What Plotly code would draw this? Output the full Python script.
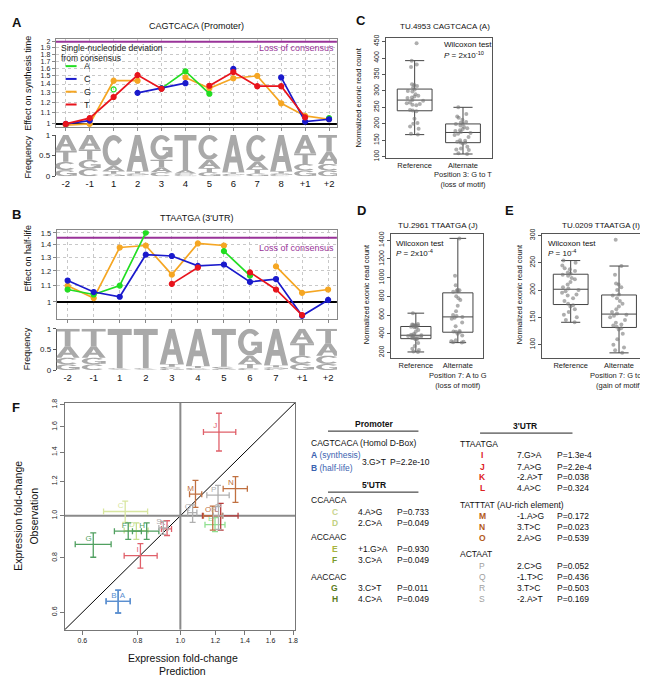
import numpy as np
import plotly.graph_objects as go

W, H = 648, 678
def fx(x): return x / W
def fy(y): return 1 - y / H

FONT = "Arial, Liberation Sans, sans-serif"
GREEN, BLUE, ORANGE, RED = "#22dd22", "#1a1acc", "#f5a623", "#e8141c"
PURPLE = "#993399"
GRID = "#c8c8c8"
FRAME = "#888888"

# ---------------- Panel A data (CAGTCACA, promoter) ----------------
posA = ["-2", "-1", "1", "2", "3", "4", "5", "6", "7", "8", "+1", "+2"]
A_green = [None, None, 1.338, None, 1.35, 1.56, 1.29, None, None, None, None, 1.05]
A_blue = [1.0, 1.028, None, 1.30, 1.35, 1.41, None, 1.59, None, 1.48, 1.02, 1.04]
A_orange = [0.99, 1.0, 1.44, 1.44, None, 1.48, 1.35, 1.47, 1.50, 1.19, 1.07, 1.04]
A_red = [1.0, 1.05, 1.255, 1.51, 1.345, None, 1.38, 1.55, 1.375, 1.375, 1.057, None]
A_ticks = [1, 1.1, 1.2, 1.3, 1.4, 1.5, 1.6, 1.7, 1.8, 1.9, 2]
A_loss = 2.0
logoA = {
    "A": [0.38, 0.35, 0.12, 0.88, 0.12, 0.08, 0.20, 0.90, 0.18, 0.88, 0.45, 0.30],
    "C": [0.20, 0.18, 0.75, 0.03, 0.10, 0.04, 0.60, 0.03, 0.65, 0.03, 0.16, 0.16],
    "G": [0.15, 0.22, 0.06, 0.04, 0.60, 0.03, 0.10, 0.03, 0.07, 0.04, 0.14, 0.14],
    "T": [0.27, 0.25, 0.07, 0.05, 0.18, 0.85, 0.10, 0.04, 0.10, 0.05, 0.25, 0.40],
}

# ---------------- Panel B data (TTAATGA, 3'UTR) ----------------
posB = ["-2", "-1", "1", "2", "3", "4", "5", "6", "7", "+1", "+2"]
B_green = [1.076, 1.045, 1.101, 1.502, None, None, 1.348, 1.167, None, None, None]
B_blue = [1.134, 1.06, 1.031, 1.32, 1.31, 1.236, 1.246, 1.125, 1.144, 0.922, 1.012]
B_orange = [1.10, 1.023, 1.377, 1.393, 1.174, 1.41, 1.393, None, 1.232, 1.055, 1.076]
B_red = [None, None, None, None, 1.112, 1.224, None, 1.19, 1.076, 0.926, None]
B_ticks = [1, 1.1, 1.2, 1.3, 1.4, 1.5]
B_loss = 1.457
logoB = {
    "A": [0.28, 0.28, 0.02, 0.02, 0.85, 0.90, 0.03, 0.20, 0.88, 0.35, 0.30],
    "C": [0.16, 0.14, 0.02, 0.02, 0.05, 0.03, 0.03, 0.05, 0.03, 0.20, 0.20],
    "G": [0.14, 0.16, 0.01, 0.01, 0.03, 0.02, 0.02, 0.65, 0.04, 0.15, 0.15],
    "T": [0.42, 0.42, 0.95, 0.95, 0.07, 0.05, 0.92, 0.10, 0.05, 0.30, 0.35],
}

# ---------------- Panels C, D, E (box plots) ----------------
C_ref = [445, 392, 380, 373, 320, 318, 315, 310, 304, 300, 298, 290, 285, 283, 280, 278, 262,
         272, 270, 265, 260, 258, 256, 242, 240, 238, 215, 202, 200, 192, 185, 170, 167]
C_alt = [250, 230, 222, 218, 212, 205, 203, 200, 199, 195, 190, 186, 184, 180, 178, 175, 172,
         170, 166, 160, 150, 148, 145, 143, 142, 140, 130, 125, 122, 120, 110, 108]
D_ref = [620, 505, 500, 495, 490, 488, 485, 480, 475, 470, 465, 440, 420, 400, 390, 385, 383,
         380, 375, 370, 365, 360, 355, 350, 345, 340, 300, 270, 240, 225, 210, 205]
D_alt = [1420, 1020, 920, 870, 865, 860, 855, 850, 800, 780, 760, 700, 640, 600, 590, 580,
         570, 560, 520, 480, 430, 425, 420, 415, 400, 380, 330, 320, 315, 310, 305]
E_ref = [254, 250, 245, 240, 238, 235, 232, 230, 228, 226, 222, 220, 215, 210, 205, 203, 200,
         198, 195, 192, 190, 185, 180, 175, 172, 170, 165, 160, 155, 150, 145, 141]
E_alt = [292, 244, 228, 212, 210, 205, 200, 192, 190, 185, 180, 175, 170, 165, 160, 157, 155,
         153, 150, 145, 140, 137, 135, 133, 130, 128, 120, 110, 100, 95, 90, 85]

# ---------------- Panel F data ----------------
F_labels = ["A", "B", "C", "D", "E", "F", "G", "H", "I", "J", "K", "L", "M", "N", "O", "P", "Q", "R", "S"]
F_pred = [0.723, 0.723, 0.75, 0.795, 1.198, 0.762, 0.635, 0.839, 0.812, 1.223, 0.933, 1.234, 1.082, 1.333, 1.184, 1.217, 1.066, 1.22, 0.915]
F_pred_lo = [0.679, 0.679, 0.670, 0.746, 1.137, 0.709, 0.578, 0.779, 0.746, 1.128, 0.906, 1.122, 1.049, 1.25, 1.128, 1.148, 1.039, 1.188, 0.894]
F_pred_hi = [0.77, 0.77, 0.843, 0.845, 1.262, 0.816, 0.697, 0.894, 0.886, 1.335, 0.955, 1.351, 1.118, 1.418, 1.245, 1.29, 1.09, 1.25, 0.937]
F_obs = [0.636, 0.636, 1.023, 0.925, 0.954, 0.922, 0.86, 0.922, 0.81, 1.557, 0.933, 1.0, 1.121, 1.154, 1.0, 1.115, 1.017, 1.0, 0.938]
F_obs_lo = [0.598, 0.598, 0.966, 0.883, 0.92, 0.883, 0.803, 0.883, 0.758, 1.409, 0.901, 0.927, 1.046, 1.073, 0.927, 1.05, 0.966, 0.93, 0.906]
F_obs_hi = [0.675, 0.675, 1.081, 0.963, 0.99, 0.963, 0.914, 0.963, 0.863, 1.72, 0.974, 1.068, 1.206, 1.23, 1.053, 1.174, 1.059, 1.059, 0.971]
F_colors = ["#5b8fd0", "#5b8fd0", "#d8e6a0", "#c8e090", "#90e090", "#50a060", "#50a060", "#50a060",
            "#e0606a", "#e0606a", "#e0606a", "#b83a3a", "#c07040", "#c07040", "#c07040",
            "#b0b0b0", "#b0b0b0", "#b0b0b0", "#b0b0b0"]
F_textpos = ["top right", "top left"] + ["top left"] * 17
F_ticks = [0.6, 0.8, 1.0, 1.2, 1.4, 1.6, 1.8]
F_ticktext = ["0.6", "0.8", "1.0", "1.2", "1.4", "1.6", "1.8"]
F_lim = [0.547, 1.82]

fig = go.Figure()
shapes = []
ann = []

def txt(x, y, s, size=9, xanchor="center", yanchor="middle", color="#111", angle=0, bold=False):
    if bold:
        s = "<b>" + s + "</b>"
    ann.append(dict(x=fx(x), y=fy(y), xref="paper", yref="paper", text=s, showarrow=False,
                    xanchor=xanchor, yanchor=yanchor, textangle=angle, borderpad=0,
                    font=dict(family=FONT, size=size, color=color)))

# ---------------- glyphs for sequence logos ----------------
def arc(cx, cy, rx, ry, a0, a1, n=22):
    t = np.radians(np.linspace(a0, a1, n))
    return [(cx + rx * np.cos(a), cy + ry * np.sin(a)) for a in t]

GLYPHS = {
    "T": [[[(0, 1), (1, 1), (1, 0.84), (0.62, 0.84), (0.62, 0), (0.38, 0), (0.38, 0.84), (0, 0.84)]]],
    "A": [[[(0, 0), (0.38, 1), (0.62, 1), (1, 0), (0.76, 0), (0.67, 0.26), (0.33, 0.26), (0.24, 0)],
           [(0.40, 0.42), (0.60, 0.42), (0.5, 0.74)]]],
    "C": [[arc(0.5, 0.5, 0.5, 0.5, 40, 320) + arc(0.5, 0.5, 0.27, 0.33, 320, 40)]],
    "G": [[arc(0.5, 0.5, 0.5, 0.5, 40, 330) + arc(0.5, 0.5, 0.27, 0.33, 330, 40)],
          [[(0.55, 0.52), (1.0, 0.52), (1.0, 0.1), (0.8, 0.1), (0.8, 0.38), (0.55, 0.38)]]],
}

def add_logo(logo, xref, yref, npos):
    for i in range(npos):
        items = sorted([(logo[k][i], k) for k in "ACGT"])
        y0 = 0.0
        for h, letter in items:
            if h >= 0.015:
                for group in GLYPHS[letter]:
                    path = ""
                    for sub in group:
                        pts = [(i + (u - 0.5) * 0.92, y0 + v * h) for u, v in sub]
                        path += "M " + " L ".join(f"{a:.4f},{b:.4f}" for a, b in pts) + " Z "
                    shapes.append(dict(type="path", path=path, xref=xref, yref=yref,
                                       fillcolor="#a9a9a9", line=dict(width=0), layer="above"))
            y0 += h

def add_lines(xa, ya, n, series, baseline, loss, xr):
    fig.add_trace(go.Scatter(x=xr, y=[baseline, baseline], mode="lines", line=dict(color="black", width=2),
                             xaxis=xa, yaxis=ya, showlegend=False, hoverinfo="skip"))
    fig.add_trace(go.Scatter(x=xr, y=[loss, loss], mode="lines", line=dict(color=PURPLE, width=2),
                             xaxis=xa, yaxis=ya, showlegend=False, hoverinfo="skip"))
    for vals, color, sym in series:
        fig.add_trace(go.Scatter(x=list(range(n)), y=vals, mode="lines+markers",
                                 line=dict(color=color, width=1.7),
                                 marker=dict(color=color, size=5, symbol=sym, line=dict(width=1.2, color=color)),
                                 connectgaps=False, xaxis=xa, yaxis=ya, showlegend=False, hoverinfo="skip"))

xrA = [-0.42, 11.33]
xrB = [-0.42, 10.34]
symA_green = ["circle-open" if i == 2 else "circle" for i in range(len(posA))]
add_lines("x", "y", len(posA), [(A_orange, ORANGE, "circle"), (A_green, GREEN, symA_green),
                                (A_blue, BLUE, "circle"), (A_red, RED, "circle")], 1.0, A_loss, xrA)
add_lines("x3", "y3", len(posB), [(B_orange, ORANGE, "circle"), (B_green, GREEN, "circle"),
                                  (B_blue, BLUE, "circle"), (B_red, RED, "circle")], 1.0, B_loss, xrB)
add_logo(logoA, "x2", "y2", len(posA))
add_logo(logoB, "x4", "y4", len(posB))

# ---------------- box plots ----------------
BOXW = 0.72
def add_box(xa, ya, cats, ref, alt):
    for k, (cat, vals) in enumerate(zip(cats, [ref, alt])):
        fig.add_trace(go.Box(y=vals, x=[cat] * len(vals), xaxis=xa, yaxis=ya, boxpoints="all",
                             jitter=0.55, pointpos=0, width=BOXW, whiskerwidth=0.55,
                             fillcolor="rgba(255,255,255,0)", line=dict(color="#444", width=1),
                             marker=dict(color="rgba(120,120,120,0.6)", size=4),
                             showlegend=False, hoverinfo="skip"))
    for k, vals in enumerate([ref, alt]):
        med = float(np.median(vals))
        fig.add_trace(go.Scatter(x=[k - BOXW / 2, k + BOXW / 2], y=[med, med], mode="lines",
                                 line=dict(color="black", width=2.2), xaxis=xa, yaxis=ya,
                                 showlegend=False, hoverinfo="skip"))

catsC = ["Reference", "Alternate<br>Position 3: G to T<br>(loss of motif)"]
catsD = ["Reference", "Alternate<br>Position 7: A to G<br>(loss of motif)"]
catsE = ["Reference", "Alternate<br>Position 7: G to A<br>(gain of motif)"]
add_box("x5", "y5", catsC, C_ref, C_alt)
add_box("x6", "y6", catsD, D_ref, D_alt)
add_box("x7", "y7", catsE, E_ref, E_alt)

# ---------------- panel F ----------------
fig.add_trace(go.Scatter(x=F_lim, y=F_lim, mode="lines", line=dict(color="black", width=1),
                         xaxis="x8", yaxis="y8", showlegend=False, hoverinfo="skip"))
fig.add_trace(go.Scatter(x=[1.0, 1.0], y=F_lim, mode="lines", line=dict(color="#8a8a8a", width=2),
                         xaxis="x8", yaxis="y8", showlegend=False, hoverinfo="skip"))
fig.add_trace(go.Scatter(x=F_lim, y=[1.0, 1.0], mode="lines", line=dict(color="#8a8a8a", width=2),
                         xaxis="x8", yaxis="y8", showlegend=False, hoverinfo="skip"))
for i, lab in enumerate(F_labels):
    x, y = F_pred[i], F_obs[i]
    fig.add_trace(go.Scatter(
        x=[x], y=[y], mode="markers+text", text=[lab], textposition=F_textpos[i],
        textfont=dict(family=FONT, size=8, color=F_colors[i]),
        marker=dict(size=1, color=F_colors[i]),
        error_x=dict(type="data", symmetric=False, array=[F_pred_hi[i] - x], arrayminus=[x - F_pred_lo[i]],
                     color=F_colors[i], thickness=1.3, width=3),
        error_y=dict(type="data", symmetric=False, array=[F_obs_hi[i] - y], arrayminus=[y - F_obs_lo[i]],
                     color=F_colors[i], thickness=1.3, width=3),
        xaxis="x8", yaxis="y8", showlegend=False, hoverinfo="skip"))

# ---------------- axes ----------------
tickf = dict(family=FONT, size=8, color="#222")
def line_x(dom, rng, anchor, n):
    return dict(domain=dom, range=rng, anchor=anchor, tickvals=list(range(n)), showticklabels=False,
                ticks="outside", ticklen=3, tickcolor=FRAME, showgrid=True, gridcolor=GRID, griddash="dot",
                showline=True, mirror=True, linecolor=FRAME, zeroline=False)
def line_y(dom, rng, anchor, tv, fs):
    return dict(domain=dom, type="log", range=[np.log10(rng[0]), np.log10(rng[1])], anchor=anchor,
                tickvals=tv, ticktext=[f"{v:g}" for v in tv], tickfont=dict(family=FONT, size=fs, color="#222"),
                ticks="outside", ticklen=3, tickcolor=FRAME, showgrid=True, gridcolor=GRID, griddash="dot",
                showline=True, mirror=True, linecolor=FRAME, zeroline=False)
def logo_x(dom, rng, anchor, labels):
    return dict(domain=dom, range=rng, anchor=anchor, tickvals=list(range(len(labels))), ticktext=labels,
                tickfont=dict(family=FONT, size=9.5, color="#111"), showgrid=False, showline=False,
                zeroline=False, ticks="")
def logo_y(dom, anchor):
    return dict(domain=dom, range=[0, 1], anchor=anchor, tickvals=[0, 0.5, 1], ticktext=["0", "0.5", "1"],
                tickfont=tickf, ticks="outside", ticklen=3, tickcolor="#555", showline=True,
                linecolor="#555", showgrid=False, zeroline=False)
def box_x(dom, anchor):
    return dict(domain=dom, anchor=anchor, tickfont=dict(family=FONT, size=7.5, color="#222"),
                tickangle=0, showline=True, mirror=True, linecolor="#555", ticks="", showgrid=False,
                zeroline=False, range=[-0.6, 1.6])
def box_y(dom, anchor, rng, tv):
    return dict(domain=dom, anchor=anchor, range=rng, tickvals=tv, tickangle=-90,
                tickfont=dict(family=FONT, size=7, color="#222"), ticks="outside", ticklen=3,
                tickcolor="#555", showline=True, mirror=True, linecolor="#555", showgrid=False,
                zeroline=False)

layout = dict(
    width=W, height=H, margin=dict(l=0, r=0, t=0, b=0), paper_bgcolor="white", plot_bgcolor="white",
    font=dict(family=FONT),
    xaxis=line_x([fx(48), fx(331)], xrA, "y", len(posA)),
    yaxis=line_y([fy(115), fy(25)], [0.973, 2.055], "x", A_ticks, 7),
    xaxis2=logo_x([fx(48), fx(331)], xrA, "y2", posA),
    yaxis2=logo_y([fy(165), fy(123)], "x2"),
    xaxis3=line_x([fx(49), fx(331)], xrB, "y3", len(posB)),
    yaxis3=line_y([fy(310), fy(220)], [0.905, 1.522], "x3", B_ticks, 7.5),
    xaxis4=logo_x([fx(49), fx(331)], xrB, "y4", posB),
    yaxis4=logo_y([fy(362), fy(320)], "x4"),
    xaxis5=box_x([fx(380), fx(487)], "y5"),
    yaxis5=box_y([fy(146), fy(24)], "x5", [97, 462], [100, 150, 200, 250, 300, 350, 400, 450]),
    xaxis6=box_x([fx(385), fx(478)], "y6"),
    yaxis6=box_y([fy(350), fy(224)], "x6", [137, 1463], [200, 400, 600, 800, 1000, 1200, 1400]),
    xaxis7=box_x([fx(537), fx(644)], "y7"),
    yaxis7=box_y([fy(350), fy(224)], "x7", [75, 302], [100, 150, 200, 250, 300]),
    xaxis8=dict(domain=[fx(57), fx(289)], anchor="y8", type="log",
                range=[np.log10(F_lim[0]), np.log10(F_lim[1])], tickvals=F_ticks, ticktext=F_ticktext,
                tickfont=dict(family=FONT, size=7, color="#222"), ticks="outside", ticklen=4,
                tickcolor="#777", showline=True, mirror=True, linecolor="#777", showgrid=False, zeroline=False),
    yaxis8=dict(domain=[fy(626), fy(395)], anchor="x8", type="log",
                range=[np.log10(F_lim[0]), np.log10(F_lim[1])], tickvals=F_ticks, ticktext=F_ticktext,
                tickangle=-90, tickfont=dict(family=FONT, size=7, color="#222"), ticks="outside", ticklen=4,
                tickcolor="#777", showline=True, mirror=True, linecolor="#777", showgrid=False, zeroline=False),
)

# ---------------- text: panels A & B ----------------
txt(3, 9, "A", 13, "left", bold=True)
txt(190, 12, "CAGTCACA (Promoter)", 9)
txt(20, 70, "Effect on synthesis time", 9, angle=-90)
txt(20, 145, "Frequency", 9, angle=-90)
txt(329, 35, "Loss of consensus", 9, "right", color=PURPLE)
txt(52, 35, "Single-nucleotide deviation", 8.5, "left", color="#222")
txt(52, 45, "from consensus", 8.5, "left", color="#222")
for j, (lab, col) in enumerate([("A", GREEN), ("C", BLUE), ("G", ORANGE), ("T", RED)]):
    yy = 53 + j * 13
    shapes.append(dict(type="line", xref="paper", yref="paper", x0=fx(58), x1=fx(69), y0=fy(yy), y1=fy(yy),
                       line=dict(color=col, width=2)))
    txt(75, yy, lab, 9, "left", color="#222")

txt(3, 204, "B", 13, "left", bold=True)
txt(190, 207, "TTAATGA (3'UTR)", 9)
txt(20, 248, "Effect on half-life", 9, angle=-90)
txt(20, 340, "Frequency", 9, angle=-90)
txt(329, 238, "Loss of consensus", 9, "right", color=PURPLE)

# ---------------- text: panels C, D, E ----------------
txt(349, 7, "C", 13, "left", bold=True)
txt(440, 13, "TU.4953 CAGTCACA (A)", 8)
txt(353, 85, "Normalized exonic read count", 7.5, angle=-90)
txt(438, 31, "Wilcoxon test", 8, "left")
txt(438, 42, "<i>P</i> = 2x10<sup>-10</sup>", 8, "left")

txt(350, 200, "D", 13, "left", bold=True)
txt(433, 215, "TU.2961 TTAATGA (J)", 8)
txt(361, 285, "Normalized exonic read count", 7.5, angle=-90)
txt(389, 233, "Wilcoxon test", 8, "left")
txt(389, 243, "<i>P</i> = 2x10<sup>-4</sup>", 8, "left")

txt(499, 200, "E", 13, "left", bold=True)
txt(597, 215, "TU.0209 TTAATGA (I)", 8)
txt(515, 285, "Normalized exonic read count", 7.5, angle=-90)
txt(542, 233, "Wilcoxon test", 8, "left")
txt(542, 243, "<i>P</i> = 10<sup>-4</sup>", 8, "left")

# ---------------- text: panel F ----------------
txt(3, 400, "F", 13, "left", bold=True)
txt(176, 655, "Expression fold-change", 10.5)
txt(176, 668, "Prediction", 10.5)
txt(10, 510, "Expression fold-change", 10.5, angle=-90)
txt(26, 510, "Observation", 10.5, angle=-90)

# table
TS = 8.5
def header(xc, y, s, x0, x1, uy):
    txt(xc, y, s, TS, bold=True)
    shapes.append(dict(type="line", xref="paper", yref="paper", x0=fx(x0), x1=fx(x1), y0=fy(uy), y1=fy(uy),
                       line=dict(color="#222", width=1)))

header(368, 417, "Promoter", 322, 413, 424)
txt(304, 436, "CAGTCACA (Homol D-Box)", TS, "left")
txt(304, 448, "<b>A</b> (synthesis)", TS, "left", color="#3b63b0")
txt(304, 461, "<b>B</b> (half-life)", TS, "left", color="#3b63b0")
txt(355, 455, "3.G>T", TS, "left")
txt(383, 455, "P=2.2e-10", TS, "left")

header(368, 479, "5'UTR", 322, 413, 486)
left_rows = [
    ("CCAACA", 494, None),
    ("C", 506, ("4.A>G", "P=0.733", "#c8d490")),
    ("D", 517, ("2.C>A", "P=0.049", "#c0d080")),
    ("ACCAAC", 532, None),
    ("E", 544, ("+1.G>A", "P=0.930", "#a8b440")),
    ("F", 555, ("3.C>A", "P=0.049", "#7a9a2a")),
    ("AACCAC", 572, None),
    ("G", 583, ("3.C>T", "P=0.011", "#5a7a1a")),
    ("H", 595, ("4.C>A", "P=0.049", "#5a7a1a")),
]
for lab, y, rest in left_rows:
    if rest is None:
        txt(304, y, lab, TS, "left")
    else:
        txt(329, y, lab, TS, color=rest[2], bold=True)
        txt(351, y, rest[0], TS, "left")
        txt(390, y, rest[1], TS, "left")

header(520, 419, "3'UTR", 475, 568, 426)
right_rows = [
    ("TTAATGA", 437, None),
    ("I", 448, ("7.G>A", "P=1.3e-4", "#dd2222")),
    ("J", 460, ("7.A>G", "P=2.2e-4", "#dd2222")),
    ("K", 471, ("-2.A>T", "P=0.038", "#dd2222")),
    ("L", 482, ("4.A>C", "P=0.324", "#dd2222")),
    ("TATTTAT (AU-rich element)", 499, None),
    ("M", 510, ("-1.A>G", "P=0.172", "#b35a1a")),
    ("N", 521, ("3.T>C", "P=0.023", "#b35a1a")),
    ("O", 533, ("2.A>G", "P=0.539", "#b35a1a")),
    ("ACTAAT", 549, None),
    ("P", 561, ("2.C>G", "P=0.052", "#a0a0a0")),
    ("Q", 572, ("-1.T>C", "P=0.436", "#a0a0a0")),
    ("R", 583, ("3.T>C", "P=0.503", "#a0a0a0")),
    ("S", 595, ("-2.A>T", "P=0.169", "#a0a0a0")),
]
for lab, y, rest in right_rows:
    if rest is None:
        txt(454, y, lab, TS, "left")
    else:
        txt(477, y, lab, TS, color=rest[2], bold=rest[2] != "#a0a0a0")
        txt(511, y, rest[0], TS, "left")
        txt(551, y, rest[1], TS, "left")

layout["shapes"] = shapes
layout["annotations"] = ann
fig.update_layout(**layout)
fig.write_html("out.html")
